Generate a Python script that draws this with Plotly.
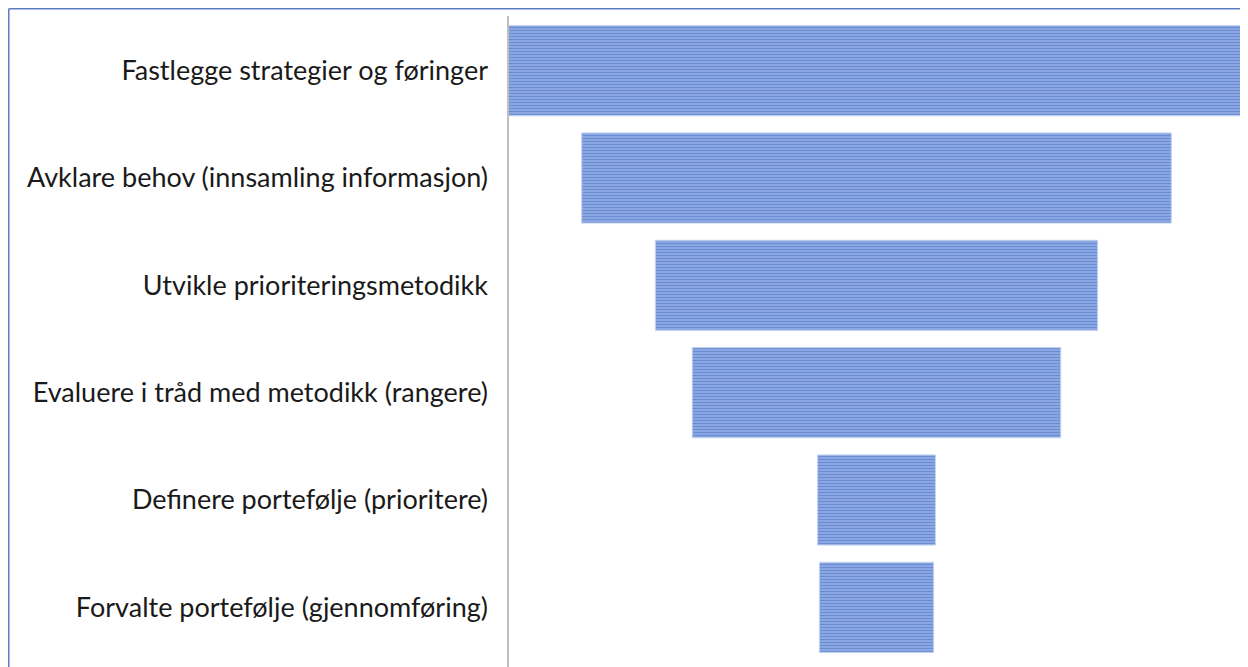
import plotly.graph_objects as go

# ---- data ----
stages = [
    "Fastlegge strategier og føringer",
    "Avklare behov (innsamling informasjon)",
    "Utvikle prioriteringsmetodikk",
    "Evaluere i tråd med metodikk (rangere)",
    "Definere portefølje (prioritere)",
    "Forvalte portefølje (gjennomføring)",
]
values = [100, 80, 60, 50, 16, 15.5]

# ---- layout geometry (pixels, relative to figure origin which sits 8px into the page) ----
W, H = 1240, 659
ML, MR, MT, MB = 500, 3, 9, 6
PW, PH = W - ML - MR, H - MT - MB

def px_x(p):
    return (p - ML) / PW

def px_y(p):
    return 1 - (p - MT) / PH

fig = go.Figure(
    go.Bar(
        y=stages,
        x=values,
        base=[-v / 2 for v in values],
        orientation="h",
        marker=dict(
            color="#3865c2",
            line=dict(color="#c3d1f0", width=1),
            pattern=dict(shape="-", size=3, solidity=0.55, bgcolor="#9ab3e6", fgcolor="#3865c2"),
        ),
        hoverinfo="y+x",
    )
)

fig.update_layout(
    width=W,
    height=H,
    margin=dict(l=ML, r=MR, t=MT, b=MB, pad=0),
    plot_bgcolor="white",
    paper_bgcolor="white",
    bargap=0.16,
    showlegend=False,
    font=dict(family="Lato, Open Sans, sans-serif", size=27, color="#1a1a1a"),
    xaxis=dict(range=[-50, 50], visible=False, fixedrange=True),
    yaxis=dict(
        autorange="reversed",
        showline=False,
        showgrid=False,
        ticks="",
        ticklabelstandoff=19,
        tickfont=dict(size=27, color="#1a1a1a"),
    ),
    shapes=[
        # vertical category axis line
        dict(type="line", xref="paper", yref="paper",
             x0=0, x1=0, y0=px_y(8), y1=px_y(H + 5),
             line=dict(color="#bfbfbf", width=2)),
        # outer frame (left and top edges)
        dict(type="line", xref="paper", yref="paper",
             x0=px_x(0.75), x1=px_x(0.75), y0=px_y(0.75), y1=px_y(H + 5),
             line=dict(color="#5a7cc4", width=1.5)),
        dict(type="line", xref="paper", yref="paper",
             x0=px_x(0.75), x1=px_x(W + 5), y0=px_y(0.75), y1=px_y(0.75),
             line=dict(color="#5a7cc4", width=1.5)),
    ],
)

fig.write_html("out.html")
